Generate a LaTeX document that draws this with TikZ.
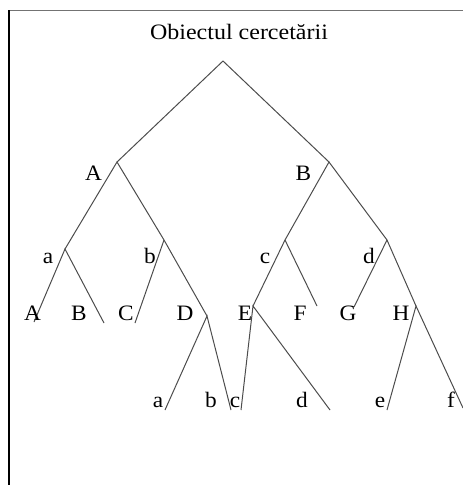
\documentclass[tikz,border=0pt]{standalone}
\usepackage{fontspec}
\setmainfont{Liberation Serif}
\begin{document}
\begin{tikzpicture}[x=1pt,y=-1pt,
  branch/.style={draw=black!70,line width=1pt},
  lbl/.style={inner sep=0pt,anchor=base,font=\fontsize{22}{26}\selectfont,xscale=1.06},
  title/.style={inner sep=0pt,anchor=base,font=\fontsize{22}{26}\selectfont,xscale=1.09}]
\useasboundingbox (0,0) rectangle (463,485);
% frame
\coordinate (fc) at (9,10);
\coordinate (fr) at (463,10);
\coordinate (fb) at (9,485);
\draw[black!55,line width=1pt] (fc) -- (fr);
\draw[black,line width=1.2pt] (fc) -- (fb);
% title
\node[title] (t) at (239,39) {Obiectul cercetării};
% apex and end points
\coordinate (r) at (223,61);
\coordinate (A) at (117,162);
\coordinate (B) at (329,162);
\coordinate (pa) at (65,249);
\coordinate (pb) at (164,240);
\coordinate (pD) at (207,316);
\coordinate (lA) at (34,322);
\coordinate (lB) at (104,323);
\coordinate (lC) at (135,323);
\coordinate (ea) at (165,410);
\coordinate (eb) at (231,410);
\coordinate (pc) at (285,240);
\coordinate (pE) at (253,306);
\coordinate (lF) at (317,306);
\coordinate (pd) at (387,240);
\coordinate (pH) at (416,306);
\coordinate (lG) at (354,307);
\coordinate (ec) at (241,410);
\coordinate (ed) at (330,410);
\coordinate (ee) at (387,410);
\coordinate (ef) at (463,408);
% branches
\draw[branch] (A) -- (r) -- (B);
\draw[branch] (pa) -- (A) -- (pb) -- (pD);
\draw[branch] (lA) -- (pa) -- (lB);
\draw[branch] (pb) -- (lC);
\draw[branch] (ea) -- (pD) -- (eb);
\draw[branch] (pE) -- (pc) -- (B) -- (pd) -- (pH);
\draw[branch] (pc) -- (lF);
\draw[branch] (pd) -- (lG);
\draw[branch] (ec) -- (pE) -- (ed);
\draw[branch] (ee) -- (pH) -- (ef);
% labels
\node[lbl] (tA) at (93.5,180) {A};
\node[lbl] (tB) at (303.5,180) {B};
\node[lbl] (ta) at (48,263) {a};
\node[lbl] (tb) at (150,263) {b};
\node[lbl] (tc) at (265,263) {c};
\node[lbl] (td) at (369,263) {d};
\node[lbl] (LA) at (32.5,320.5) {A};
\node[lbl] (LB) at (79,320.5) {B};
\node[lbl] (LC) at (126,320.5) {C};
\node[lbl] (LD) at (185,320.5) {D};
\node[lbl] (LE) at (245,320.5) {E};
\node[lbl] (LF) at (300,320.5) {F};
\node[lbl] (LG) at (348,320.5) {G};
\node[lbl] (LH) at (401,320.5) {H};
\node[lbl] (ba) at (158,407) {a};
\node[lbl] (bb) at (211,407) {b};
\node[lbl] (bc) at (235,407) {c};
\node[lbl] (bd) at (302,407) {d};
\node[lbl] (be) at (380,407) {e};
\node[lbl] (bf) at (451,407) {f};
\end{tikzpicture}
\end{document}
